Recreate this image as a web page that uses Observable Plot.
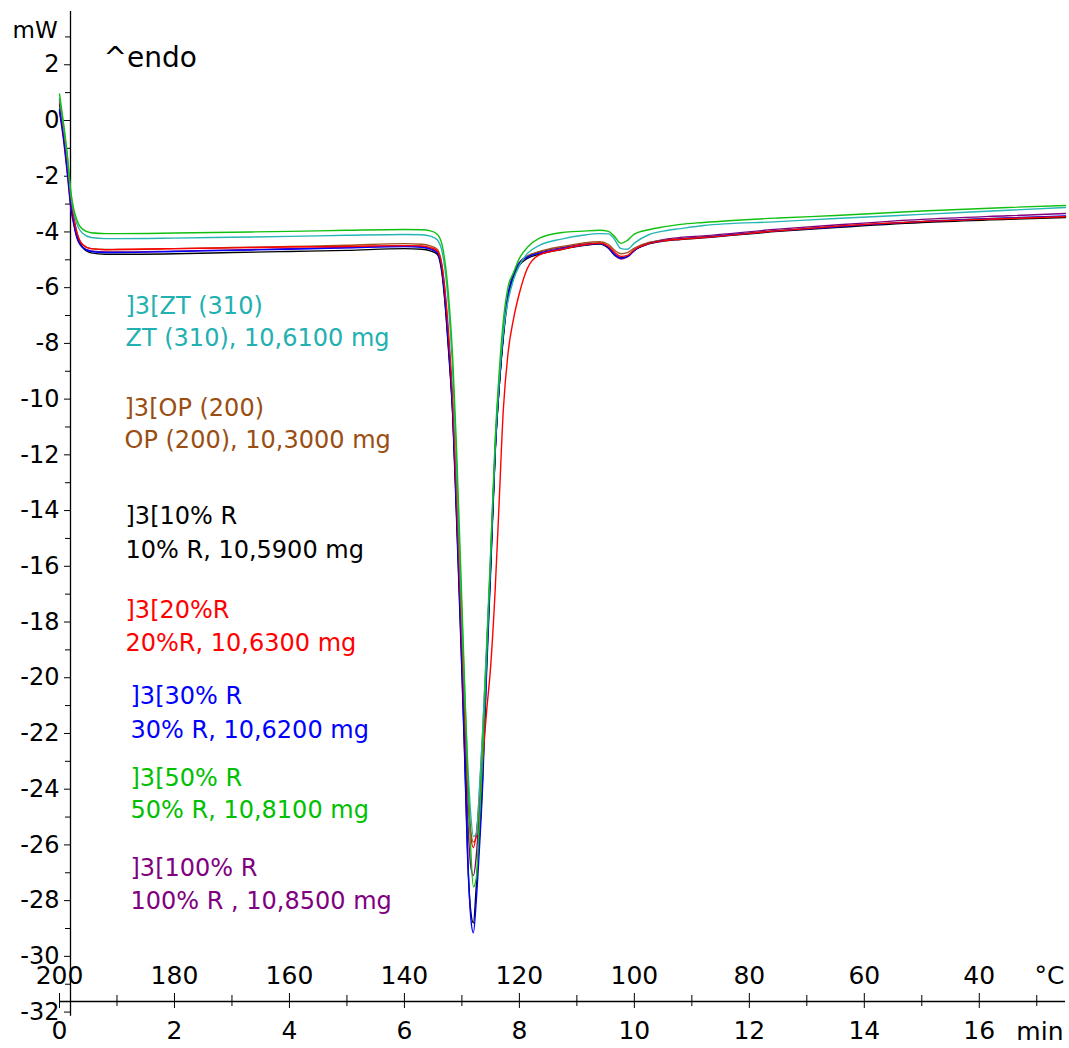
<!DOCTYPE html>
<html><head><meta charset="utf-8">
<script src="https://cdn.jsdelivr.net/npm/d3@7"></script>
<script src="https://cdn.jsdelivr.net/npm/@observablehq/plot@0.6"></script>
<style>body{margin:0;background:#fff} #chart svg{display:block}</style>
</head><body><div id="chart"></div>
<script>
// ---- data (time in min, heat flow in mW) ----
const time = [0, 0.07, 0.14, 0.2, 0.25, 0.3, 0.4, 0.55, 0.8, 1,
  2, 3, 4, 5, 6, 6.3, 6.45, 6.57, 6.66, 6.72,
  6.78, 6.84, 6.9, 6.95, 7.0, 7.05, 7.1, 7.15, 7.2, 7.25,
  7.3, 7.36, 7.43, 7.5, 7.58, 7.65, 7.72, 7.8, 7.9, 8.0,
  8.14, 8.35, 8.75, 9.1, 9.4, 9.55, 9.65, 9.77, 9.88, 10.0,
  10.25, 10.5, 10.8, 11.2, 12.5, 13.5, 15, 16.5, 17.5];

const zt310 = [0.8, -0.2, -1.4, -2.7, -3.3, -3.7, -4.05, -4.2, -4.24, -4.24,
  -4.22, -4.19, -4.16, -4.12, -4.09, -4.1, -4.15, -4.28, -4.75, -5.6,
  -7.0, -9.0, -12.0, -14.9, -17.8, -20.6, -23.0, -24.8, -25.7, -25.6,
  -24.2, -22.0, -18.8, -15.5, -11.6, -9.3, -7.6, -6.5, -5.7, -5.2,
  -4.77, -4.48, -4.25, -4.12, -4.06, -4.07, -4.25, -4.6, -4.62, -4.4,
  -4.1, -3.97, -3.88, -3.77, -3.63, -3.52, -3.37, -3.22, -3.12];

const op200 = [0.7, -0.35, -1.55, -2.85, -3.5, -4.0, -4.45, -4.6, -4.63, -4.63,
  -4.6, -4.56, -4.52, -4.48, -4.42, -4.44, -4.5, -4.62, -5.3, -6.5,
  -8.2, -10.2, -13.2, -16.0, -18.8, -21.5, -23.8, -25.4, -25.9, -25.7,
  -24.3, -22.0, -19.0, -15.8, -11.8, -9.5, -7.7, -6.3, -5.5, -5.1,
  -4.86, -4.7, -4.52, -4.4, -4.35, -4.45, -4.65, -4.78, -4.74, -4.58,
  -4.38, -4.3, -4.24, -4.18, -3.95, -3.8, -3.62, -3.5, -3.44];

const r10 = [0.6, -0.5, -1.7, -3.0, -3.6, -4.1, -4.55, -4.75, -4.8, -4.8,
  -4.78, -4.74, -4.7, -4.66, -4.6, -4.62, -4.68, -4.8, -5.6, -6.9,
  -8.6, -10.6, -13.9, -16.8, -19.8, -23.0, -26.5, -28.3, -28.8, -27.5,
  -25.9, -23.6, -19.5, -16.0, -11.8, -9.5, -7.8, -6.4, -5.6, -5.2,
  -4.95, -4.8, -4.62, -4.49, -4.43, -4.58, -4.8, -4.93, -4.88, -4.66,
  -4.43, -4.33, -4.27, -4.21, -3.98, -3.84, -3.66, -3.55, -3.48];

const r20 = [0.75, -0.3, -1.5, -2.8, -3.5, -4.0, -4.45, -4.6, -4.64, -4.63,
  -4.6, -4.57, -4.54, -4.52, -4.49, -4.5, -4.56, -4.68, -5.3, -6.4,
  -8.0, -10.0, -13.0, -15.8, -18.6, -21.4, -24.0, -25.6, -26.1, -25.6,
  -24.6, -23.0, -21.2, -19.6, -16.8, -13.6, -10.4, -8.4, -7.1, -6.2,
  -5.3, -4.82, -4.62, -4.47, -4.4, -4.52, -4.72, -4.88, -4.84, -4.64,
  -4.42, -4.32, -4.26, -4.2, -3.96, -3.8, -3.63, -3.52, -3.45];

const r30 = [0.4, -0.6, -1.9, -3.1, -3.7, -4.15, -4.55, -4.7, -4.74, -4.74,
  -4.7, -4.66, -4.62, -4.57, -4.52, -4.55, -4.62, -4.75, -5.5, -6.8,
  -8.5, -10.5, -13.7, -16.6, -19.6, -22.8, -26.3, -28.5, -29.15, -28.0,
  -26.3, -23.9, -19.8, -16.2, -11.9, -9.5, -7.7, -6.3, -5.5, -5.12,
  -4.9, -4.76, -4.6, -4.48, -4.42, -4.57, -4.8, -4.94, -4.88, -4.66,
  -4.42, -4.32, -4.25, -4.19, -3.96, -3.82, -3.63, -3.5, -3.43];

const r50 = [0.95, -0.1, -1.3, -2.6, -3.2, -3.55, -3.9, -4.03, -4.06, -4.06,
  -4.04, -4.01, -3.98, -3.94, -3.91, -3.92, -3.96, -4.08, -4.5, -5.3,
  -6.6, -8.5, -11.4, -14.3, -17.3, -20.4, -23.5, -26.0, -27.5, -27.2,
  -25.4, -22.8, -19.2, -15.6, -11.4, -9.0, -7.2, -6.0, -5.45, -4.95,
  -4.55, -4.22, -4.02, -3.97, -3.94, -3.98, -4.15, -4.41, -4.3, -4.08,
  -3.92, -3.82, -3.73, -3.66, -3.5, -3.41, -3.25, -3.12, -3.05];

const r100 = [0.3, -0.7, -2.0, -3.2, -3.75, -4.2, -4.55, -4.68, -4.72, -4.72,
  -4.69, -4.65, -4.6, -4.56, -4.5, -4.52, -4.6, -4.72, -5.45, -6.7,
  -8.4, -10.4, -13.5, -16.3, -19.2, -22.2, -25.0, -26.7, -27.1, -26.4,
  -24.9, -22.7, -19.2, -15.9, -11.8, -9.5, -7.7, -6.3, -5.5, -5.1,
  -4.88, -4.72, -4.56, -4.44, -4.4, -4.58, -4.83, -4.97, -4.9, -4.66,
  -4.4, -4.28, -4.2, -4.14, -3.9, -3.75, -3.55, -3.42, -3.34];

const seriesNames = ["ZT (310)", "OP (200)", "10% R", "20%R", "30% R", "50% R", "100% R"];
const seriesValues = [zt310, op200, r10, r20, r30, r50, r100];
const legendTitles = ["]3[ZT (310)", "]3[OP (200)", "]3[10% R", "]3[20%R", "]3[30% R", "]3[50% R", "]3[100% R"];
const legendSubtitles = ["ZT (310), 10,6100 mg", "OP (200), 10,3000 mg", "10% R, 10,5900 mg",
  "20%R, 10,6300 mg", "30% R, 10,6200 mg", "50% R, 10,8100 mg", "100% R , 10,8500 mg"];

const minuteTicks = [0, 2, 4, 6, 8, 10, 12, 14, 16];
const minuteMinorTicks = [1, 3, 5, 7, 9, 11, 13, 15, 17];
const celsiusTicks = [200, 180, 160, 140, 120, 100, 80, 60, 40];
const mwTicks = [-32, -30, -28, -26, -24, -22, -20, -18, -16, -14, -12, -10, -8, -6, -4, -2, 0, 2];
const mwMinorTicks = [-31, -29, -27, -25, -23, -21, -19, -17, -15, -13, -11, -9, -7, -5, -3, -1, 1, 3];
const startTemp = 200, coolingRate = 10; // °C at 0 min, K/min

// ---- styling / layout ----
const colors = ["#26B4B4", "#A0521C", "#000000", "#FF0000", "#0000FF", "#10C010", "#800080"];
const textColors = ["#22B0B0", "#9A4E12", "#000000", "#FF0000", "#0000FF", "#00C000", "#800080"];
const drawOrder = [6, 1, 2, 4, 3, 0, 5];
// legend: [dx from frame left, dy of first baseline, dy of second baseline] (px)
const legendLayout = [[66, 302, 334], [65, 404, 436], [66, 512, 546], [66, 606, 639],
  [71, 692, 726], [71, 774, 806], [71, 864, 897]];

const FONT = "DejaVu Sans";
const yDomain = [-31.62, 3.912];

const marks = [];
// y axis line
marks.push(Plot.ruleX([0], {y1: yDomain[1], y2: -32.15, dx: 11, stroke: "black", strokeWidth: 1.3}));
// y axis ticks + labels
marks.push(Plot.axisY({ticks: mwTicks, tickSize: 6, tickPadding: 5, dx: 11, fontSize: 24,
  tickFormat: d => String(d), label: null, stroke: "black", color: "black"}));
marks.push(Plot.axisY({ticks: mwMinorTicks, tickSize: 5, dx: 11, tickFormat: () => "", label: null}));
// x axis line
marks.push(Plot.ruleY([yDomain[0]], {stroke: "black", strokeWidth: 1.3}));
// x axis ticks (down) + minute labels
marks.push(Plot.axisX({ticks: minuteTicks, tickSize: 7, tickPadding: 13, fontSize: 25,
  tickFormat: d => String(d), label: null}));
marks.push(Plot.axisX({ticks: minuteTicks, tickSize: -8, tickFormat: () => "", label: null}));
marks.push(Plot.axisX({ticks: minuteMinorTicks, tickSize: 5, tickFormat: () => "", label: null}));
marks.push(Plot.axisX({ticks: minuteMinorTicks, tickSize: -6, tickFormat: () => "", label: null}));
// temperature labels
marks.push(Plot.text(celsiusTicks, {x: d => (startTemp - d) / coolingRate, frameAnchor: "bottom",
  lineAnchor: "bottom", dy: -18, text: d => String(d), fontSize: 25, fill: "black"}));
marks.push(Plot.text(["°C"], {frameAnchor: "bottom-right", textAnchor: "end", lineAnchor: "bottom",
  dy: -18, dx: -1, fontSize: 25, fill: "black"}));
marks.push(Plot.text(["min"], {frameAnchor: "bottom-right", textAnchor: "end", lineAnchor: "bottom",
  dy: 38, dx: -2, fontSize: 25, fill: "black"}));
marks.push(Plot.text(["mW"], {frameAnchor: "top-left", textAnchor: "start", lineAnchor: "bottom",
  dx: -47, dy: 26, fontSize: 23, fill: "black"}));
marks.push(Plot.text(["^endo"], {frameAnchor: "top-left", textAnchor: "start", lineAnchor: "bottom",
  dx: 44, dy: 55, fontSize: 28, fill: "black"}));

// curves
for (const i of drawOrder) {
  const rows = time.map((t, j) => ({t, v: seriesValues[i][j]}));
  marks.push(Plot.line(rows, {x: "t", y: "v", stroke: colors[i], strokeWidth: 1.4, curve: "monotone-x"}));
}
// legend text
seriesNames.forEach((name, i) => {
  const [dx, dy1, dy2] = legendLayout[i];
  marks.push(Plot.text([legendTitles[i]], {frameAnchor: "top-left", textAnchor: "start", lineAnchor: "bottom",
    dx, dy: dy1, fontSize: 24, fill: textColors[i]}));
  marks.push(Plot.text([legendSubtitles[i]], {frameAnchor: "top-left", textAnchor: "start", lineAnchor: "bottom",
    dx, dy: dy2, fontSize: 24, fill: textColors[i]}));
});

const chart = Plot.plot({
  width: 1069, height: 1048,
  marginLeft: 59, marginRight: 4, marginTop: 11, marginBottom: 47,
  style: {fontFamily: FONT, background: "white", color: "black", overflow: "visible"},
  x: {domain: [0, 17.5]},
  y: {domain: yDomain},
  marks
});
document.getElementById("chart").appendChild(chart);
</script>
</body></html>
